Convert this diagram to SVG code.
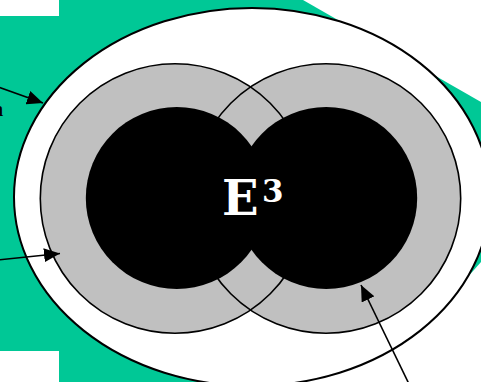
<svg xmlns="http://www.w3.org/2000/svg" width="481" height="382" viewBox="0 0 481 382">
<style>
.ring{fill:#c0c0c0;stroke:none}
.ringline{fill:none;stroke:#000;stroke-width:1.6}
.core{fill:#000}
.conn{stroke:#000;stroke-width:1.6;fill:none}
.lbl{font-family:"DejaVu Serif",serif;font-weight:bold;fill:#fff}
</style>
<defs>
<marker id="ah" markerUnits="userSpaceOnUse" markerWidth="18" markerHeight="14" refX="16" refY="7" orient="auto">
<path d="M0,0 L16,7 L0,14 Z" fill="#000"/>
</marker>
</defs>
<g id="background">
<polygon points="0,0 303,0 575,156 462,283.4 230,420 0,420" fill="#00c896"/>
<rect x="0" y="0" width="59" height="16" fill="#fff"/>
<rect x="0" y="351" width="59" height="31" fill="#fff"/>
<text x="-8" y="116" font-family="Liberation Serif, serif" font-weight="bold" font-size="20" fill="#000">n</text>
</g>
<g id="outer">
<ellipse cx="252" cy="197" rx="238" ry="189" fill="#fff" stroke="#000" stroke-width="2"/>
</g>
<g id="left-ring">
<circle class="ring" cx="175" cy="198.5" r="134.7"/>
</g>
<g id="right-ring">
<circle class="ring" cx="326" cy="198.5" r="134.7"/>
<circle class="ringline" cx="175" cy="198.5" r="134.7"/>
<circle class="ringline" cx="326" cy="198.5" r="134.7"/>
</g>
<g id="left-core">
<circle class="core" cx="176.8" cy="198" r="91"/>
</g>
<g id="right-core">
<circle class="core" cx="326.2" cy="198" r="91"/>
</g>
<g id="label">
<text class="lbl" x="222" y="215" font-size="48">E</text>
<text class="lbl" x="262" y="202" font-size="31">3</text>
</g>
<g id="connectors">
<line class="conn" x1="-2" y1="87" x2="43" y2="103" marker-end="url(#ah)"/>
<line class="conn" x1="-2" y1="260" x2="60" y2="253.5" marker-end="url(#ah)"/>
<line class="conn" x1="409" y1="384" x2="361" y2="285" marker-end="url(#ah)"/>
</g>
</svg>
